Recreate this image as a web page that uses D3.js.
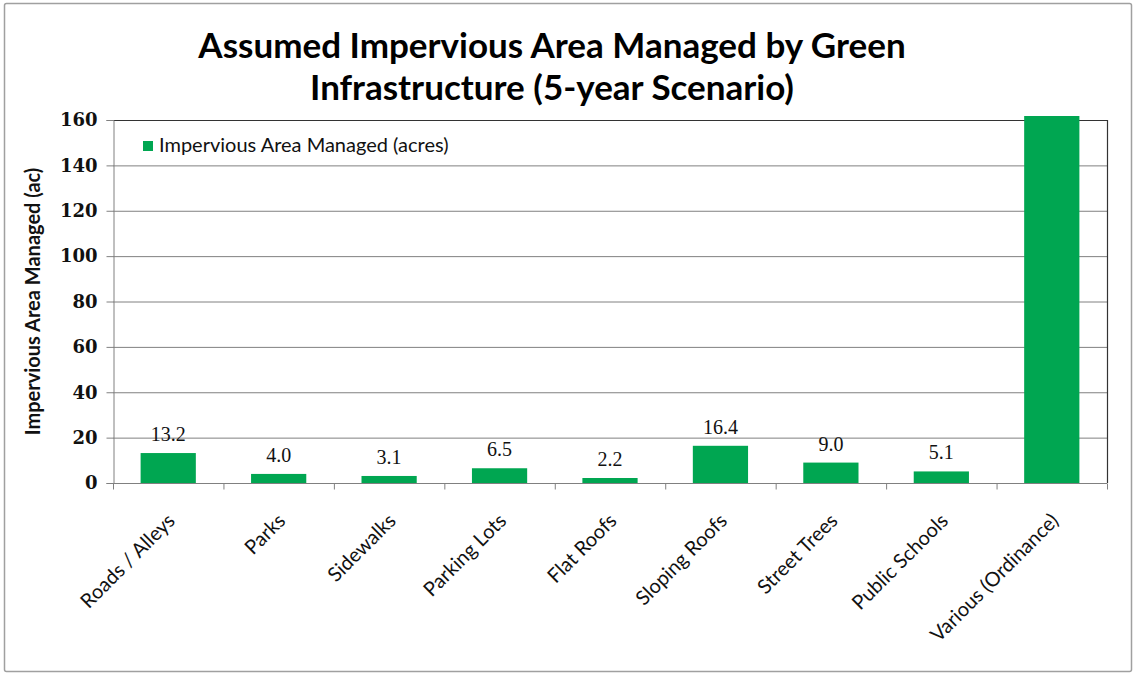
<!DOCTYPE html>
<html>
<head>
<meta charset="utf-8">
<script src="https://cdn.jsdelivr.net/npm/d3@7"></script>
<style>
  html, body { margin: 0; padding: 0; background: #fff; }
  svg { display: block; }
</style>
</head>
<body>
<svg id="chart" width="1136" height="674"></svg>
<script>
const categories = ["Roads / Alleys", "Parks", "Sidewalks", "Parking Lots", "Flat Roofs", "Sloping Roofs", "Street Trees", "Public Schools", "Various (Ordinance)"];
const values = [13.2, 4.0, 3.1, 6.5, 2.2, 16.4, 9.0, 5.1, 200];
const valueLabels = ["13.2", "4.0", "3.1", "6.5", "2.2", "16.4", "9.0", "5.1", ""];
const yTicks = [0, 20, 40, 60, 80, 100, 120, 140, 160];
const titleLines = ["Assumed Impervious Area Managed by Green", "Infrastructure (5-year Scenario)"];
const seriesName = "Impervious Area Managed (acres)";
const yTitle = "Impervious Area Managed (ac)";

const svg = d3.select("#chart");
const green = "#00A651";
const sans = "Lato, 'Open Sans', sans-serif";
const serif = "'Liberation Serif', 'DejaVu Serif', serif";
const serifWide = "'DejaVu Serif', serif";

// outer border
svg.append("rect").attr("x", 4.5).attr("y", 3.5).attr("width", 1127).attr("height", 668)
  .attr("fill", "#fff").attr("stroke", "#a0a0a0").attr("stroke-width", 1.5).attr("rx", 2);

const plot = { left: 113, right: 1107, top: 120, bottom: 483 };

const x = d3.scaleBand().domain(categories).range([plot.left, plot.right]).paddingInner(0.5).paddingOuter(0.25);
const xb = d3.scaleBand().domain(categories).range([plot.left, plot.right]);
const y = d3.scaleLinear().domain([0, 160]).range([plot.bottom, plot.top]);

// title
svg.append("g").selectAll("text").data(titleLines).join("text")
  .attr("x", 552).attr("y", (d, i) => 58 + i * 42)
  .attr("text-anchor", "middle")
  .attr("font-family", sans).attr("font-weight", "bold").attr("font-size", 35)
  .attr("fill", "#000").text(d => d);

// gridlines
svg.append("g").selectAll("line").data(yTicks.filter(t => t > 0)).join("line")
  .attr("x1", plot.left).attr("x2", plot.right)
  .attr("y1", d => y(d) + 0.5).attr("y2", d => y(d) + 0.5)
  .attr("stroke", "#808080").attr("stroke-width", 1);

// plot frame (top & right)
svg.append("path")
  .attr("d", `M${plot.left},${plot.top + 0.5}H${plot.right + 0.5}V${plot.bottom}`)
  .attr("fill", "none").attr("stroke", "#333").attr("stroke-width", 1.2);

// bars clipped to plot area
svg.append("clipPath").attr("id", "clip").append("rect")
  .attr("x", plot.left).attr("y", plot.top - 4).attr("width", plot.right - plot.left).attr("height", plot.bottom - plot.top + 4);

svg.append("g").attr("clip-path", "url(#clip)").selectAll("rect").data(categories).join("rect")
  .attr("x", d => x(d)).attr("width", x.bandwidth())
  .attr("y", (d, i) => y(values[i])).attr("height", (d, i) => y(0) - y(values[i]))
  .attr("fill", green);

// value labels
svg.append("g").selectAll("text").data(categories).join("text")
  .attr("x", d => x(d) + x.bandwidth() / 2)
  .attr("y", (d, i) => y(values[i]) - 12)
  .attr("text-anchor", "middle")
  .attr("font-family", serif).attr("font-size", 20).attr("fill", "#111")
  .text((d, i) => valueLabels[i]);

// y axis
const yAxis = d3.axisLeft(y).tickValues(yTicks).tickSize(7).tickPadding(9).tickFormat(d3.format("d"));
const gy = svg.append("g").attr("transform", `translate(${plot.left + 0.5},0)`).call(yAxis);
gy.select(".domain").attr("stroke", "#808080");
gy.selectAll(".tick line").attr("stroke", "#808080");
gy.selectAll(".tick text").attr("font-family", serifWide).attr("font-weight", "bold").attr("font-size", 18).attr("fill", "#111");

// x axis
const gx = svg.append("g").attr("transform", `translate(0,${plot.bottom + 0.5})`);
gx.append("line").attr("x1", plot.left).attr("x2", plot.right).attr("stroke", "#808080");
gx.selectAll("line.tk").data(categories.concat(["__end"])).join("line").attr("class", "tk")
  .attr("x1", (d, i) => plot.left + i * xb.bandwidth() + 0.5)
  .attr("x2", (d, i) => plot.left + i * xb.bandwidth() + 0.5)
  .attr("y1", 0).attr("y2", 6).attr("stroke", "#808080");

svg.append("g").selectAll("text").data(categories).join("text")
  .attr("transform", d => `translate(${xb(d) + xb.bandwidth() / 2 + 8},${plot.bottom + 39}) rotate(-45)`)
  .attr("text-anchor", "end")
  .attr("font-family", sans).attr("font-size", 20).attr("fill", "#111")
  .text(d => d);

// y title
svg.append("text")
  .attr("transform", `translate(40,${(plot.top + plot.bottom) / 2}) rotate(-90)`)
  .attr("text-anchor", "middle")
  .attr("font-family", sans).attr("font-weight", "bold").attr("font-size", 20).attr("fill", "#111")
  .text(yTitle);

// legend
const lg = svg.append("g").attr("transform", "translate(143,140)");
lg.append("rect").attr("width", 10).attr("height", 10).attr("y", 1).attr("fill", green);
lg.append("text").attr("x", 16).attr("y", 12)
  .attr("font-family", sans).attr("font-size", 20).attr("fill", "#111").text(seriesName);
</script>
</body>
</html>
